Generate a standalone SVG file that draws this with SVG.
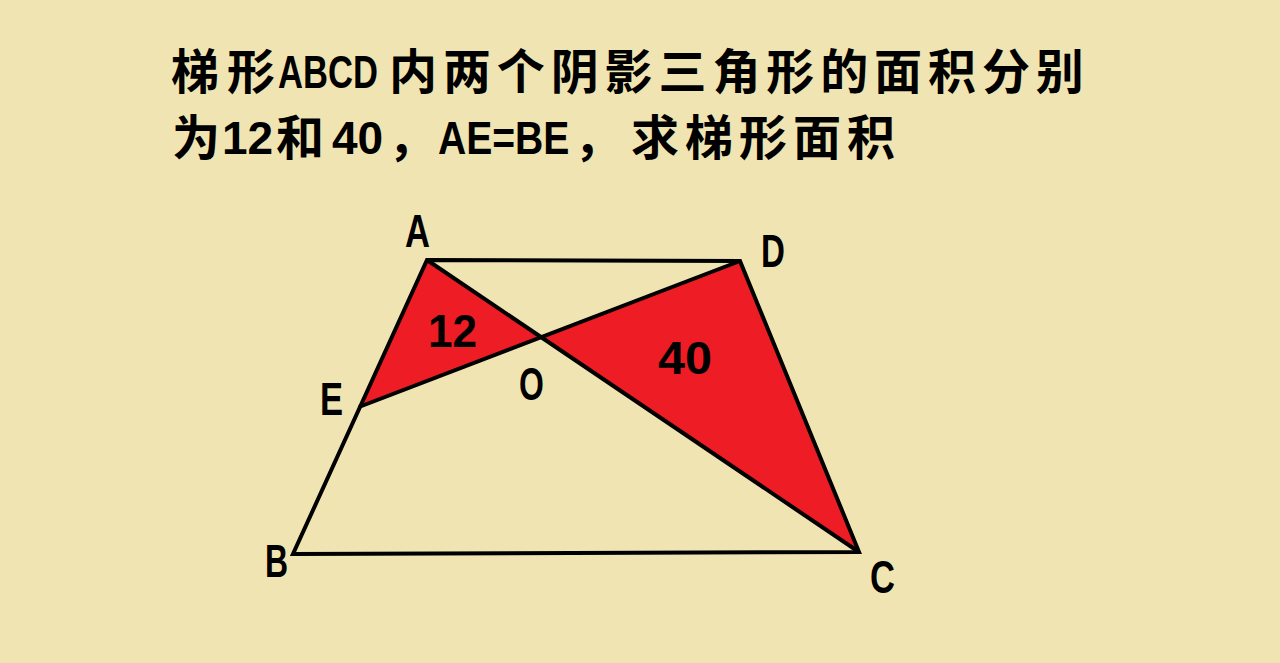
<svg xmlns="http://www.w3.org/2000/svg" width="1280" height="663" viewBox="0 0 1280 663">
<style>
.cjk{font-family:"Noto Sans CJK SC","Noto Sans",sans-serif;font-weight:700;font-size:48px;fill:#000}
.lat{font-family:"Liberation Sans","Arial",sans-serif;font-weight:700;font-size:46px;fill:#000}
.lbl{font-family:"Liberation Sans","Arial",sans-serif;font-weight:700;font-size:47px;fill:#000}
.edge{fill:none;stroke:#000;stroke-width:4;stroke-linejoin:miter;stroke-linecap:butt}
.shade{fill:#EE1C25;stroke:none}
</style>
<rect x="0" y="0" width="1280" height="663" fill="#F0E5B2"/>
<g id="title">
<text class="cjk" x="171" y="89" letter-spacing="8">梯形</text>
<text class="lat" transform="translate(278,88) scale(0.752,1)">ABCD</text>
<text class="cjk" x="389" y="89" letter-spacing="5.9">内两个阴影三角形的面积分别</text>
<text class="cjk" x="172" y="155">为</text>
<text class="lat" x="222" y="154">12</text>
<text class="cjk" x="276" y="155">和</text>
<text class="lat" x="332" y="154">40</text>
<text class="cjk" x="388" y="155">，</text>
<text class="lat" transform="translate(438,154) scale(0.85,1)">AE=BE</text>
<text class="cjk" x="574" y="155">，</text>
<text class="cjk" x="631" y="155" letter-spacing="6">求梯形面积</text>
</g>
<g id="triangle-AEO">
<polygon class="shade" points="427,260 359,407 541,337"/>
</g>
<g id="triangle-ODC">
<polygon class="shade" points="541,337 740,261 859,552"/>
</g>
<g id="connectors">
<polygon class="edge" points="427,260 740,261 859,552 293,554"/>
<line class="edge" x1="427" y1="260" x2="859" y2="552"/>
<line class="edge" x1="359" y1="407" x2="740" y2="261"/>
</g>
<g id="label-A"><text class="lbl" transform="translate(405,247) scale(0.735,1)">A</text></g>
<g id="label-D"><text class="lbl" transform="translate(761,267) scale(0.705,1)">D</text></g>
<g id="label-E"><text class="lbl" transform="translate(320,415) scale(0.735,1)">E</text></g>
<g id="label-O"><text class="lbl" transform="translate(519,400) scale(0.68,1)">O</text></g>
<g id="label-B"><text class="lbl" transform="translate(265,577) scale(0.68,1)">B</text></g>
<g id="label-C"><text class="lbl" transform="translate(870,593) scale(0.735,1)">C</text></g>
<g id="label-12"><text class="lbl" x="428" y="347" textLength="49" lengthAdjust="spacingAndGlyphs">12</text></g>
<g id="label-40"><text class="lbl" x="658" y="374" textLength="54" lengthAdjust="spacingAndGlyphs">40</text></g>
</svg>
